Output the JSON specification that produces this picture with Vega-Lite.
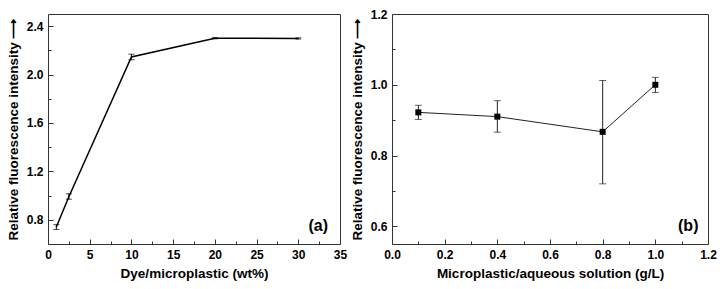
{
  "$schema": "https://vega.github.io/schema/vega-lite/v6.json",
  "padding": {"left": 5, "top": 7, "right": 5, "bottom": 5},
  "background": "white",
  "bounds": "flush",
  "spacing": 52,
  "config": {
    "view": {"stroke": "#333", "strokeWidth": 1},
    "axis": {
      "domain": false, "grid": false,
      "labelFont": "Liberation Sans", "labelFontWeight": "bold", "labelFontSize": 12, "labelColor": "#000",
      "titleFont": "Liberation Sans", "titleFontWeight": "bold", "titleFontSize": 13.5, "titleColor": "#000",
      "tickColor": "#333", "tickWidth": 1, "tickSize": -5,
      "labelOverlap": false, "labelFlush": false, "labelBound": false,
      "labelPadding": 10, "titlePadding": 6
    }
  },
  "datasets": {
    "a": [
      {"x": 1, "y": 0.74, "lo": 0.72, "hi": 0.76},
      {"x": 2.5, "y": 0.99, "lo": 0.97, "hi": 1.015},
      {"x": 10, "y": 2.145, "lo": 2.122, "hi": 2.168},
      {"x": 20, "y": 2.3, "lo": 2.295, "hi": 2.305},
      {"x": 30, "y": 2.298, "lo": 2.293, "hi": 2.303}
    ],
    "b": [
      {"x": 0.1, "y": 0.922, "lo": 0.902, "hi": 0.942},
      {"x": 0.4, "y": 0.91, "lo": 0.866, "hi": 0.955},
      {"x": 0.8, "y": 0.867, "lo": 0.72, "hi": 1.012},
      {"x": 1.0, "y": 1.0, "lo": 0.978, "hi": 1.021}
    ],
    "la": [{"x": 32.4, "y": 0.745, "label": "(a)"}],
    "lb": [{"x": 1.125, "y": 0.6, "label": "(b)"}]
  },
  "hconcat": [
    {
      "width": 292, "height": 230,
      "resolve": {"axis": {"x": "independent", "y": "independent"}},
      "layer": [
        {
          "data": {"name": "a"},
          "mark": {"type": "line", "color": "#000", "strokeWidth": 1.5},
          "encoding": {
            "x": {"field": "x", "type": "quantitative",
              "scale": {"domain": [0, 35], "nice": false, "zero": false},
              "axis": {"title": "Dye/microplastic (wt%)", "orient": "bottom",
                "values": [0, 5, 10, 15, 20, 25, 30, 35], "format": "d"}},
            "y": {"field": "y", "type": "quantitative",
              "scale": {"domain": [0.6, 2.5], "nice": false, "zero": false},
              "axis": {"title": "Relative fluorescence intensity \u27f6", "orient": "left",
                "values": [0.8, 1.2, 1.6, 2.0, 2.4], "format": ".1f"}}
          }
        },
        {
          "data": {"name": "a"},
          "mark": {"type": "rule", "color": "#000", "strokeWidth": 1},
          "encoding": {
            "x": {"field": "x", "type": "quantitative",
              "axis": {"orient": "bottom", "title": null, "labels": false, "tickSize": -3,
                "values": [2.5, 7.5, 12.5, 17.5, 22.5, 27.5, 32.5]}},
            "y": {"field": "lo", "type": "quantitative",
              "axis": {"orient": "left", "title": null, "labels": false, "tickSize": -3,
                "values": [1.0, 1.4, 1.8, 2.2]}},
            "y2": {"field": "hi"}
          }
        },
        {
          "data": {"name": "a"},
          "mark": {"type": "tick", "orient": "horizontal", "color": "#000", "size": 6, "thickness": 1},
          "encoding": {
            "x": {"field": "x", "type": "quantitative", "axis": null},
            "y": {"field": "lo", "type": "quantitative", "axis": null}
          }
        },
        {
          "data": {"name": "a"},
          "mark": {"type": "tick", "orient": "horizontal", "color": "#000", "size": 6, "thickness": 1},
          "encoding": {
            "x": {"field": "x", "type": "quantitative", "axis": null},
            "y": {"field": "hi", "type": "quantitative", "axis": null}
          }
        },
        {
          "data": {"name": "la"},
          "mark": {"type": "text", "font": "Liberation Sans", "fontWeight": "bold", "fontSize": 16, "color": "#000"},
          "encoding": {
            "x": {"field": "x", "type": "quantitative", "axis": null},
            "y": {"field": "y", "type": "quantitative", "axis": null},
            "text": {"field": "label"}
          }
        }
      ]
    },
    {
      "width": 316, "height": 230,
      "resolve": {"axis": {"x": "independent", "y": "independent"}},
      "layer": [
        {
          "data": {"name": "b"},
          "mark": {"type": "line", "color": "#222", "strokeWidth": 1},
          "encoding": {
            "x": {"field": "x", "type": "quantitative",
              "scale": {"domain": [0, 1.2], "nice": false, "zero": false},
              "axis": {"title": "Microplastic/aqueous solution (g/L)", "orient": "bottom",
                "values": [0, 0.2, 0.4, 0.6, 0.8, 1.0, 1.2], "format": ".1f"}},
            "y": {"field": "y", "type": "quantitative",
              "scale": {"domain": [0.55, 1.2], "nice": false, "zero": false},
              "axis": {"title": "Relative fluorescence intensity \u27f6", "orient": "left",
                "values": [0.6, 0.8, 1.0, 1.2], "format": ".1f"}}
          }
        },
        {
          "data": {"name": "b"},
          "mark": {"type": "rule", "color": "#222", "strokeWidth": 1},
          "encoding": {
            "x": {"field": "x", "type": "quantitative",
              "axis": {"orient": "bottom", "title": null, "labels": false, "tickSize": -3,
                "values": [0.1, 0.3, 0.5, 0.7, 0.9, 1.1]}},
            "y": {"field": "lo", "type": "quantitative",
              "axis": {"orient": "left", "title": null, "labels": false, "tickSize": -3,
                "values": [0.7, 0.9, 1.1]}},
            "y2": {"field": "hi"}
          }
        },
        {
          "data": {"name": "b"},
          "mark": {"type": "tick", "orient": "horizontal", "color": "#222", "size": 7, "thickness": 1},
          "encoding": {
            "x": {"field": "x", "type": "quantitative", "axis": null},
            "y": {"field": "lo", "type": "quantitative", "axis": null}
          }
        },
        {
          "data": {"name": "b"},
          "mark": {"type": "tick", "orient": "horizontal", "color": "#222", "size": 7, "thickness": 1},
          "encoding": {
            "x": {"field": "x", "type": "quantitative", "axis": null},
            "y": {"field": "hi", "type": "quantitative", "axis": null}
          }
        },
        {
          "data": {"name": "b"},
          "mark": {"type": "square", "color": "#000", "size": 36, "opacity": 1},
          "encoding": {
            "x": {"field": "x", "type": "quantitative", "axis": null},
            "y": {"field": "y", "type": "quantitative", "axis": null}
          }
        },
        {
          "data": {"name": "lb"},
          "mark": {"type": "text", "font": "Liberation Sans", "fontWeight": "bold", "fontSize": 16, "color": "#000"},
          "encoding": {
            "x": {"field": "x", "type": "quantitative", "axis": null},
            "y": {"field": "y", "type": "quantitative", "axis": null},
            "text": {"field": "label"}
          }
        }
      ]
    }
  ]
}
